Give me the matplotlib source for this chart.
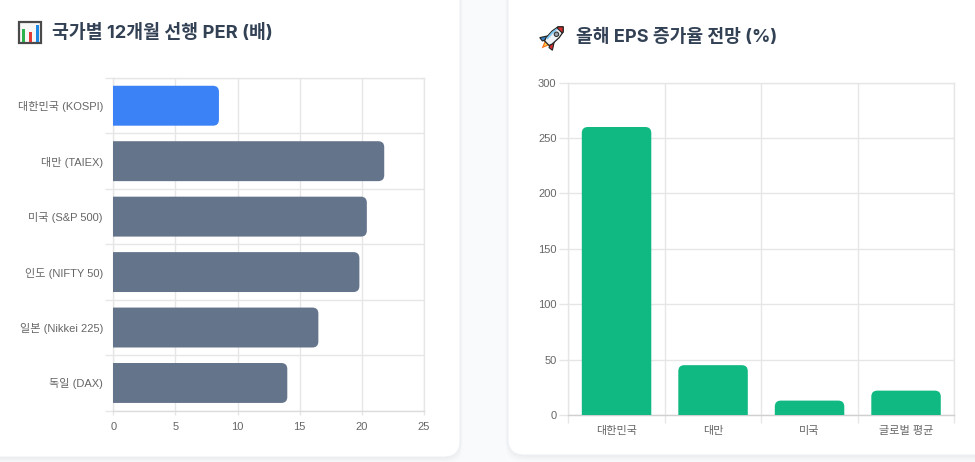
import matplotlib
matplotlib.use('Agg')
import matplotlib.pyplot as plt
from matplotlib.patches import FancyBboxPatch, Rectangle, Polygon, Circle
import matplotlib.transforms as mtransforms
import numpy as np

# ---------------- data ----------------
per_labels = ['대한민국 (KOSPI)', '대만 (TAIEX)', '미국 (S&P 500)', '인도 (NIFTY 50)',
              '일본 (Nikkei 225)', '독일 (DAX)']
per_values = [8.5, 21.8, 20.4, 19.8, 16.5, 14.0]
per_colors = ['#3b82f6', '#64748b', '#64748b', '#64748b', '#64748b', '#64748b']
per_ticks = [0, 5, 10, 15, 20, 25]

eps_labels = ['대한민국', '대만', '미국', '글로벌 평균']
eps_values = [260, 45, 13, 22]
eps_color = '#10b981'
eps_ticks = [0, 50, 100, 150, 200, 250, 300]

title_left = '국가별 12개월 선행 PER (배)'
title_right = '올해 EPS 증가율 전망 (%)'

# ---------------- style ----------------
W, H = 975, 462
BG = '#f8fafc'
GRID = '#e6e6e6'
TICK = '#666666'
TITLE = '#334155'
tick_font = ['Liberation Sans', 'Noto Sans CJK KR', 'DejaVu Sans']
title_font = ['Inter', 'Noto Sans CJK KR', 'DejaVu Sans']
plt.rcParams['font.family'] = tick_font

fig = plt.figure(figsize=(W / 100, H / 100), dpi=100)
fig.patch.set_facecolor(BG)

# background layer in pixel coordinates (y down)
bg = fig.add_axes([0, 0, 1, 1])
bg.set_xlim(0, W)
bg.set_ylim(H, 0)
bg.axis('off')
bg.set_zorder(-10)


def card(x0, y0, x1, y1):
    for i, a in enumerate([0.018, 0.014, 0.010, 0.006]):
        d = 1 + i * 1.5
        bg.add_patch(FancyBboxPatch((x0 - d * 0.5, y0 + d * 0.3), (x1 - x0) + d, (y1 - y0) + d,
                                    boxstyle='round,pad=0,rounding_size=18',
                                    fc='#0f172a', ec='none', alpha=a))
    bg.add_patch(FancyBboxPatch((x0, y0), x1 - x0, y1 - y0,
                                boxstyle='round,pad=0,rounding_size=16',
                                fc='white', ec='#eef1f5', lw=0.8))


card(-30, -20, 460, 457)
card(508, -20, 1010, 455)

# --- icon: bar chart emoji ---
bg.add_patch(Rectangle((18.5, 21.5), 22, 21.5, fc='#f7f7f7', ec='#4a4a4a', lw=1.6))
bg.add_patch(Rectangle((21.7, 28.5), 3.2, 13.6, fc='#2bb24c', ec='none'))
bg.add_patch(Rectangle((28.6, 32.3), 3.2, 9.8, fc='#e53935', ec='none'))
bg.add_patch(Rectangle((35.5, 25.2), 3.2, 16.9, fc='#1e88e5', ec='none'))

# --- icon: rocket emoji ---
rt = mtransforms.Affine2D().scale(1.05).rotate_deg(-45).translate(553.5, 36.5) + bg.transData
flame = Polygon([(-8.5, 3.0), (-16, 0.0), (-8.5, -3.0)], closed=True, fc='#f97316', ec='none', transform=rt)
flame2 = Polygon([(-8.5, 1.6), (-13, 0.0), (-8.5, -1.6)], closed=True, fc='#fcd34d', ec='none', transform=rt)
fin1 = Polygon([(-3, 4.0), (-10, 8.5), (-10.5, 4.5), (-8, 3.2)], closed=True, fc='#d62d2d', ec='#222', lw=0.8, transform=rt)
fin2 = Polygon([(-3, -4.0), (-10, -8.5), (-10.5, -4.5), (-8, -3.2)], closed=True, fc='#3b82c4', ec='#222', lw=0.8, transform=rt)
body = Polygon([(13, 0), (9.5, 3.4), (3, 4.6), (-6, 4.2), (-9, 3.0), (-9, -3.0), (-6, -4.2), (3, -4.6), (9.5, -3.4)],
               closed=True, fc='#eef2f6', ec='#222', lw=0.9, transform=rt)
stripe = Polygon([(8, -3.4), (2, -4.2), (-6, -3.8), (-6, -2.0), (2, -2.4), (8, -2.0)], closed=True,
                 fc='#7cc4f0', ec='none', transform=rt)
nose = Polygon([(13, 0), (9.5, 3.4), (8.2, 3.7), (8.2, -3.7), (9.5, -3.4)], closed=True, fc='#d62d2d', ec='#222', lw=0.8, transform=rt)
window = Circle((3.5, 0.5), 2.1, fc='#9aa5b1', ec='#333', lw=0.8, transform=rt)
for p in [flame, flame2, fin1, fin2, body, stripe, nose, window]:
    bg.add_patch(p)

# --- titles ---
bg.text(52, 33.5, title_left, fontsize=13.2, fontweight='bold', color=TITLE,
        va='center', ha='left', family=title_font)
bg.text(576, 37.5, title_right, fontsize=13.1, fontweight='bold', color=TITLE,
        va='center', ha='left', family=title_font)

# ---------------- left chart: horizontal bars ----------------
L = dict(x0=113.3, x1=424.0, y0=78.0, y1=410.7)
ax1 = fig.add_axes([L['x0'] / W, 1 - L['y1'] / H, (L['x1'] - L['x0']) / W, (L['y1'] - L['y0']) / H])
ax1.set_facecolor('none')
n1 = len(per_labels)
ypos = np.arange(n1)
ax1.set_xlim(per_ticks[0], per_ticks[-1])
ax1.set_ylim(n1 - 0.5, -0.5)
sx1 = (per_ticks[-1] - per_ticks[0]) / (L['x1'] - L['x0'])
sy1 = n1 / (L['y1'] - L['y0'])
r_px = 6.0
bh = 0.72
for yi, v, c in zip(ypos, per_values, per_colors):
    x0 = -r_px * sx1 * 1.5
    p = FancyBboxPatch((x0, yi - bh / 2), v - x0, bh,
                       boxstyle=f'round,pad=0,rounding_size={r_px * sx1}',
                       mutation_aspect=sy1 / sx1, fc=c, ec='none', zorder=3)
    ax1.add_patch(p)
    p.set_clip_path(ax1.patch)

ax1.set_xticks(per_ticks)
ax1.set_xticklabels([str(t) for t in per_ticks])
ax1.set_yticks(ypos)
ax1.set_yticklabels(per_labels)
ax1.set_yticks(np.arange(-0.5, n1, 1.0), minor=True)
ax1.set_axisbelow(True)
ax1.grid(axis='x', which='major', color=GRID, lw=1)
ax1.grid(axis='y', which='minor', color=GRID, lw=1)
ax1.tick_params(axis='y', which='major', length=0, pad=7.5, labelsize=8, labelcolor=TICK)
ax1.tick_params(axis='y', which='minor', length=5.8, width=1, color=GRID)
ax1.tick_params(axis='x', which='major', length=3, width=1, color=GRID, pad=5, labelsize=8, labelcolor=TICK)
for s in ax1.spines.values():
    s.set_color(GRID)
    s.set_linewidth(1)
ax1.spines['bottom'].set_color('#dcdcdc')

# ---------------- right chart: vertical bars ----------------
R = dict(x0=568.3, x1=954.3, y0=82.7, y1=415.0)
ax2 = fig.add_axes([R['x0'] / W, 1 - R['y1'] / H, (R['x1'] - R['x0']) / W, (R['y1'] - R['y0']) / H])
ax2.set_facecolor('none')
n2 = len(eps_labels)
xpos = np.arange(n2)
ax2.set_xlim(-0.5, n2 - 0.5)
ax2.set_ylim(eps_ticks[0], eps_ticks[-1])
sx2 = n2 / (R['x1'] - R['x0'])
sy2 = (eps_ticks[-1] - eps_ticks[0]) / (R['y1'] - R['y0'])
bw = 0.72
for xi, v in zip(xpos, eps_values):
    y0 = -r_px * sy2 * 1.5
    p = FancyBboxPatch((xi - bw / 2, y0), bw, v - y0,
                       boxstyle=f'round,pad=0,rounding_size={r_px * sx2}',
                       mutation_aspect=sy2 / sx2, fc=eps_color, ec='none', zorder=3)
    ax2.add_patch(p)
    p.set_clip_path(ax2.patch)

ax2.set_yticks(eps_ticks)
ax2.set_yticklabels([str(t) for t in eps_ticks])
ax2.set_xticks(xpos)
ax2.set_xticklabels(eps_labels)
ax2.set_xticks(np.arange(-0.5, n2, 1.0), minor=True)
ax2.set_axisbelow(True)
ax2.grid(axis='y', which='major', color=GRID, lw=1)
ax2.grid(axis='x', which='minor', color=GRID, lw=1)
ax2.tick_params(axis='x', which='major', length=0, pad=8, labelsize=8, labelcolor=TICK)
ax2.tick_params(axis='x', which='minor', length=5.8, width=1, color=GRID)
ax2.tick_params(axis='y', which='major', length=6.5, width=1, color=GRID, pad=2, labelsize=8, labelcolor=TICK)
for s in ax2.spines.values():
    s.set_color(GRID)
    s.set_linewidth(1)
ax2.spines['bottom'].set_color('#d0d0d0')

fig.savefig('out.png', dpi=100, facecolor=fig.get_facecolor())
